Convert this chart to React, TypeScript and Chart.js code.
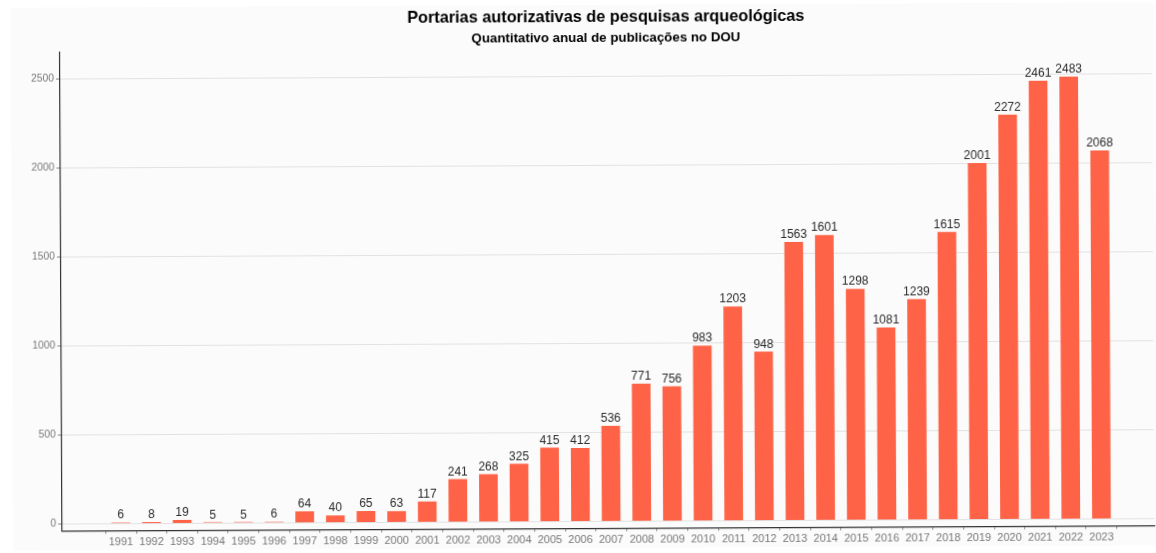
import React, { useEffect, useRef } from "react";
import { Chart, registerables } from "chart.js";

Chart.register(...registerables);

const years: number[] = [
  1991, 1992, 1993, 1994, 1995, 1996, 1997, 1998, 1999, 2000, 2001, 2002, 2003,
  2004, 2005, 2006, 2007, 2008, 2009, 2010, 2011, 2012, 2013, 2014, 2015, 2016,
  2017, 2018, 2019, 2020, 2021, 2022, 2023,
];
const portarias: number[] = [
  6, 8, 19, 5, 5, 6, 64, 40, 65, 63, 117, 241, 268, 325, 415, 412, 536, 771,
  756, 983, 1203, 948, 1563, 1601, 1298, 1081, 1239, 1615, 2001, 2272, 2461,
  2483, 2068,
];
const yTicks: number[] = [0, 500, 1000, 1500, 2000, 2500];

const titleText = "Portarias autorizativas de pesquisas arqueológicas";
const subtitleText = "Quantitativo anual de publicações no DOU";

const FONT = "'Liberation Sans', Arial, sans-serif";

export default function App() {
  const ref = useRef<HTMLCanvasElement | null>(null);

  useEffect(() => {
    const canvas = ref.current;
    if (!canvas) return;
    document.body.style.margin = "0";

    const bgPlugin = {
      id: "panelBg",
      beforeDraw(chart: any) {
        const ctx = chart.ctx;
        ctx.save();
        ctx.fillStyle = "#ffffff";
        ctx.fillRect(0, 0, chart.width, chart.height);
        ctx.fillStyle = "#fbfbfb";
        ctx.fillRect(12, 5, chart.width - 12, 543);
        ctx.restore();
      },
    };

    const titlePlugin = {
      id: "titles",
      afterDraw(chart: any) {
        const ctx = chart.ctx;
        const cx = (chart.chartArea.left + chart.chartArea.right) / 2;
        ctx.save();
        ctx.fillStyle = "#000000";
        ctx.textAlign = "center";
        ctx.textBaseline = "middle";
        ctx.font = `bold 16.3px ${FONT}`;
        ctx.fillText(titleText, cx, 18);
        ctx.font = `bold 13.3px ${FONT}`;
        ctx.fillText(subtitleText, cx, 38.5);
        ctx.restore();
      },
    };

    const labelPlugin = {
      id: "barLabels",
      afterDatasetsDraw(chart: any) {
        const ctx = chart.ctx;
        const meta = chart.getDatasetMeta(0);
        ctx.save();
        ctx.fillStyle = "#2b2b2b";
        ctx.font = `12px ${FONT}`;
        ctx.textAlign = "center";
        ctx.textBaseline = "alphabetic";
        meta.data.forEach((bar: any, i: number) => {
          ctx.fillText(String(portarias[i]), bar.x, bar.y - 4);
        });
        ctx.restore();
      },
    };

    const chart = new Chart(canvas, {
      type: "bar",
      data: {
        datasets: [
          {
            data: years.map((y, i) => ({ x: y, y: portarias[i] })),
            backgroundColor: "#ff6347",
            borderWidth: 0,
            barPercentage: 0.61,
            categoryPercentage: 1,
          },
        ],
      },
      options: {
        responsive: false,
        animation: false,
        devicePixelRatio: 1,
        layout: { padding: { top: 49.5, left: 0, right: 3, bottom: 0 } },
        plugins: {
          legend: { display: false },
          tooltip: { enabled: false },
          title: { display: false },
        },
        scales: {
          x: {
            type: "linear",
            min: 1989.085,
            max: 2024.72,
            offset: false,
            afterFit(scale: any) {
              scale.height = 24.5;
            },
            afterBuildTicks(scale: any) {
              scale.ticks = years.map((v) => ({ value: v }));
            },
            grid: {
              display: true,
              drawOnChartArea: false,
              drawTicks: true,
              tickLength: 3,
              tickColor: "#888888",
            },
            border: { display: true, color: "#333333", width: 1.2 },
            ticks: {
              autoSkip: false,
              maxRotation: 0,
              padding: 2,
              color: "#777777",
              font: { family: FONT, size: 11 },
              callback: (v: any) => String(v),
            },
          },
          y: {
            type: "linear",
            min: -39.3,
            max: 2649,
            afterFit(scale: any) {
              scale.width = 61;
            },
            afterBuildTicks(scale: any) {
              scale.ticks = yTicks.map((v) => ({ value: v }));
            },
            grid: {
              color: "#e2e2e2",
              lineWidth: 1,
              drawTicks: true,
              tickLength: 4,
              tickColor: "#888888",
            },
            border: { display: true, color: "#333333", width: 1.2 },
            ticks: {
              padding: 2,
              color: "#777777",
              font: { family: FONT, size: 10.3 },
              callback: (v: any) => String(v),
            },
          },
        },
      },
      plugins: [bgPlugin, titlePlugin, labelPlugin],
    } as any);

    return () => chart.destroy();
  }, []);

  return (
    <div
      style={{
        position: "fixed",
        left: 0,
        top: 0,
        width: 1156,
        height: 553,
        background: "#ffffff",
        overflow: "hidden",
      }}
    >
      <canvas
        ref={ref}
        width={1156}
        height={553}
        style={{
          width: 1156,
          height: 553,
          display: "block",
          transform: "rotate(-0.28deg)",
          transformOrigin: "578px 276px",
        }}
      />
    </div>
  );
}
